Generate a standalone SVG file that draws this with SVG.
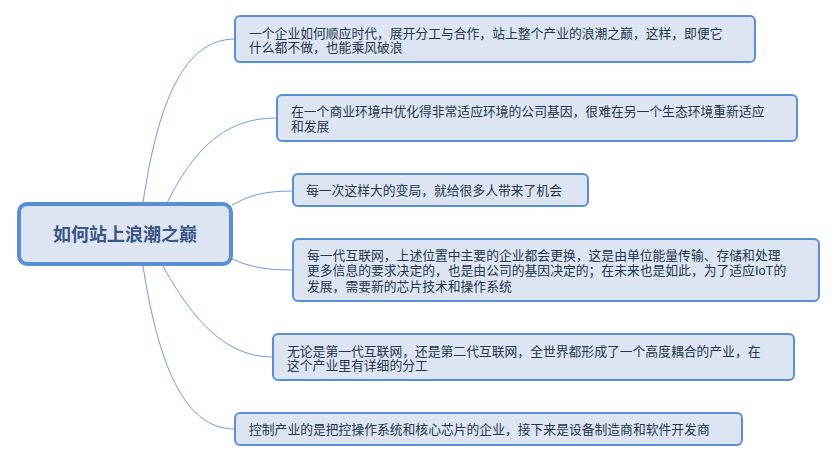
<svg xmlns="http://www.w3.org/2000/svg" width="836" height="462" viewBox="0 0 836 462">
<style>
.node rect{fill:#dce5f1;stroke:#5a8fd6;stroke-width:2}
.node text{font-family:"Liberation Sans","Noto Sans CJK SC",sans-serif;font-size:12.8px;fill:#26354a}
#root rect{fill:#dce5f1;stroke:#5a8fd6;stroke-width:4}
#root text{font-family:"Liberation Sans","Noto Sans CJK SC",sans-serif;font-size:18px;font-weight:bold;fill:#3a5684}
#connectors path{fill:none;stroke:#6b9ce0;stroke-width:1}
</style>
<rect width="836" height="462" fill="#ffffff"/>
<g id="connectors">
<path d="M143,203 C158,100 185,39 235,39"/>
<path d="M167,203 C198,140 232,118 277,118"/>
<path d="M232,205 C250,195 265,191 293,191"/>
<path d="M232,259 C250,267 265,270 293,270"/>
<path d="M163,266 C198,330 232,357 273,357"/>
<path d="M143,266 C160,375 188,429 235,429"/>
</g>
<g id="root">
<rect x="19" y="204" width="212" height="60" rx="8"/>
<text x="125" y="241" text-anchor="middle">如何站上浪潮之巅</text>
</g>
<g id="n1" class="node">
<rect x="235" y="16" width="520" height="46" rx="5"/>
<text x="249" y="37.5">一个企业如何顺应时代，展开分工与合作，站上整个产业的浪潮之巅，这样，即便它</text>
<text x="249" y="52">什么都不做，也能乘风破浪</text>
</g>
<g id="n2" class="node">
<rect x="277" y="95" width="520" height="46" rx="5"/>
<text x="291" y="116">在一个商业环境中优化得非常适应环境的公司基因，很难在另一个生态环境重新适应</text>
<text x="291" y="130.5">和发展</text>
</g>
<g id="n3" class="node">
<rect x="293" y="174" width="295" height="32" rx="5"/>
<text x="306" y="194.5">每一次这样大的变局，就给很多人带来了机会</text>
</g>
<g id="n4" class="node">
<rect x="293" y="239" width="526" height="62" rx="5"/>
<text x="307" y="259.5">每一代互联网，上述位置中主要的企业都会更换，这是由单位能量传输、存储和处理</text>
<text x="307" y="275">更多信息的要求决定的，也是由公司的基因决定的；在未来也是如此，为了适应IoT的</text>
<text x="307" y="290.5">发展，需要新的芯片技术和操作系统</text>
</g>
<g id="n5" class="node">
<rect x="273" y="334" width="521" height="46" rx="5"/>
<text x="287" y="355.5">无论是第一代互联网，还是第二代互联网，全世界都形成了一个高度耦合的产业，在</text>
<text x="287" y="369.5">这个产业里有详细的分工</text>
</g>
<g id="n6" class="node">
<rect x="235" y="413" width="507" height="32" rx="5"/>
<text x="249" y="433.5">控制产业的是把控操作系统和核心芯片的企业，接下来是设备制造商和软件开发商</text>
</g>
</svg>
